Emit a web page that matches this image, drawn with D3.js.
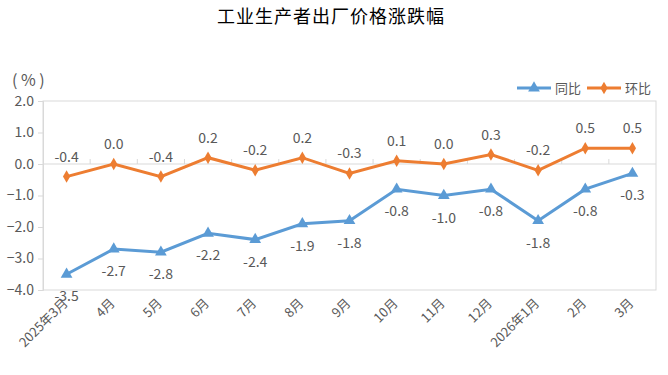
<!DOCTYPE html>
<html>
<head>
<meta charset="utf-8">
<script src="https://cdn.jsdelivr.net/npm/d3@7"></script>
<style>
  body { margin: 0; background: #fff; }
  text { font-family: "Noto Sans CJK SC", "DejaVu Sans", sans-serif; }
</style>
</head>
<body>
<svg id="chart" width="668" height="375"></svg>
<script>
var months = ["2025年3月", "4月", "5月", "6月", "7月", "8月", "9月", "10月", "11月", "12月", "2026年1月", "2月", "3月"];
var yoy = [-3.5, -2.7, -2.8, -2.2, -2.4, -1.9, -1.8, -0.8, -1.0, -0.8, -1.8, -0.8, -0.3];
var mom = [-0.4, 0.0, -0.4, 0.2, -0.2, 0.2, -0.3, 0.1, 0.0, 0.3, -0.2, 0.5, 0.5];
var yTicks = [2.0, 1.0, 0.0, -1.0, -2.0, -3.0, -4.0];

var blue = "#5b9bd5", orange = "#ed7d31", grey = "#595959";
var margin = {top: 101, right: 12, bottom: 85, left: 43},
    width = 668 - margin.left - margin.right,
    height = 375 - margin.top - margin.bottom;

var svg = d3.select("#chart");

svg.append("text")
  .attr("x", 331).attr("y", 23)
  .attr("text-anchor", "middle")
  .attr("font-size", 18).attr("fill", "#000")
  .attr("letter-spacing", 1)
  .text("工业生产者出厂价格涨跌幅");

svg.append("text")
  .attr("x", 12).attr("y", 86)
  .attr("font-size", 16).attr("fill", grey)
  .attr("font-family", "DejaVu Sans, sans-serif")
  .text("( % )");

var x = d3.scaleBand().domain(months).range([0, width]);
var y = d3.scaleLinear().domain([-4, 2]).range([height, 0]);

var g = svg.append("g")
  .attr("transform", "translate(" + margin.left + "," + margin.top + ")");

// plot border
g.append("rect")
  .attr("width", width).attr("height", height)
  .attr("fill", "none").attr("stroke", "#d9d9d9");

// y axis
var yAxis = g.append("g")
  .call(d3.axisLeft(y).tickValues(yTicks).tickSize(5).tickFormat(d3.format(".1f")));
yAxis.select(".domain").attr("stroke", "#d9d9d9");
yAxis.selectAll(".tick line").attr("stroke", "#d9d9d9");
yAxis.selectAll(".tick text").attr("font-size", 14).attr("fill", grey)
  .attr("font-family", "DejaVu Sans, sans-serif").attr("x", -9);

// category axis at zero, ticks between categories
var zero = g.append("g").attr("transform", "translate(0," + y(0) + ")");
zero.append("line").attr("x1", 0).attr("x2", width).attr("stroke", "#d9d9d9");
zero.selectAll(".sep").data(months.slice(1)).enter().append("line")
  .attr("x1", function(d) { return x(d); })
  .attr("x2", function(d) { return x(d); })
  .attr("y1", 0).attr("y2", -5)
  .attr("stroke", "#d9d9d9");

// x labels, rotated
var cx = function(d, i) { return x(months[i]) + x.bandwidth() / 2; };
g.selectAll(".xl").data(months).enter().append("text")
  .attr("transform", function(d) { return "translate(" + (x(d) + x.bandwidth() / 2 + 2) + "," + (height + 14) + ") rotate(-45)"; })
  .attr("text-anchor", "end")
  .attr("font-size", 13).attr("fill", grey)
  .text(function(d) { return d; });

var line = d3.line().x(cx).y(function(d) { return y(d); });

g.append("path").datum(yoy)
  .attr("d", line).attr("fill", "none")
  .attr("stroke", blue).attr("stroke-width", 3);
g.append("path").datum(mom)
  .attr("d", line).attr("fill", "none")
  .attr("stroke", orange).attr("stroke-width", 3);

var tri = d3.symbol().type(d3.symbolTriangle).size(60);
var dia = d3.symbol().type(d3.symbolDiamond).size(45);

g.selectAll(".tri").data(yoy).enter().append("path")
  .attr("d", tri)
  .attr("transform", function(d, i) { return "translate(" + cx(d, i) + "," + y(d) + ")"; })
  .attr("fill", blue);
g.selectAll(".dia").data(mom).enter().append("path")
  .attr("d", dia)
  .attr("transform", function(d, i) { return "translate(" + cx(d, i) + "," + y(d) + ")"; })
  .attr("fill", orange);

g.selectAll(".yl").data(yoy).enter().append("text")
  .attr("x", cx).attr("y", function(d) { return y(d) + 27; })
  .attr("text-anchor", "middle")
  .attr("font-size", 14).attr("fill", grey)
  .attr("font-family", "DejaVu Sans, sans-serif")
  .text(function(d) { return d.toFixed(1); });
g.selectAll(".ml").data(mom).enter().append("text")
  .attr("x", cx).attr("y", function(d) { return y(d) - 15; })
  .attr("text-anchor", "middle")
  .attr("font-size", 14).attr("fill", grey)
  .attr("font-family", "DejaVu Sans, sans-serif")
  .text(function(d) { return d.toFixed(1); });

// legend
var legend = svg.append("g").attr("transform", "translate(517,88)");
var items = [{name: "同比", color: blue, sym: tri}, {name: "环比", color: orange, sym: dia}];
var li = legend.selectAll("g").data(items).enter().append("g")
  .attr("transform", function(d, i) { return "translate(" + (i * 70) + ",0)"; });
li.append("line").attr("x1", 0).attr("x2", 34)
  .attr("stroke", function(d) { return d.color; }).attr("stroke-width", 3);
li.append("path").attr("d", function(d) { return d.sym(); })
  .attr("transform", "translate(17,0)")
  .attr("fill", function(d) { return d.color; });
li.append("text").attr("x", 38).attr("y", 5)
  .attr("font-size", 13).attr("fill", grey)
  .text(function(d) { return d.name; });
</script>
</body>
</html>
